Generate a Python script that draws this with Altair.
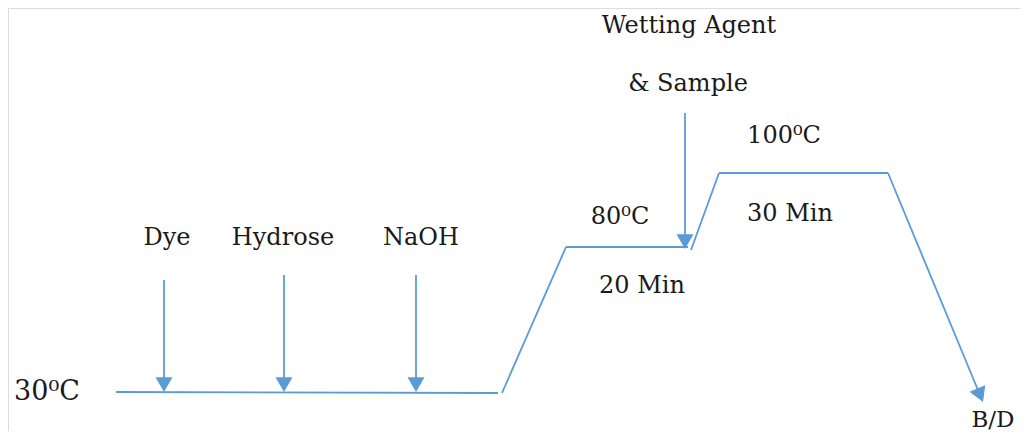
import altair as alt
import pandas as pd

# Process-curve segments (diagram coordinates, y grows downward)
seg_x1 = [116, 502, 566, 691, 719, 888, 164, 284, 416, 685]
seg_y1 = [392, 393, 247, 250, 173, 173, 280, 275, 275, 113]
seg_x2 = [498, 566, 688, 719, 888, 980, 164, 284, 416, 685]
seg_y2 = [393, 247, 247, 173, 173, 395, 385, 385, 385, 242]

# Arrow heads (centre of triangle) and their rotation
head_x = [164, 284, 416, 685, 980.2]
head_y = [384.6, 384.6, 384.6, 241.6, 395.2]
head_angle = [0, 0, 0, 0, 337.5]

# Labels
labels = ["Dye", "Hydrose", "NaOH", "30\u2070C", "80\u2070C", "20 Min",
          "100\u2070C", "30 Min", "B/D", "Wetting Agent", "& Sample"]
label_x = [167, 283, 421, 47, 620, 642, 784, 790, 993, 689, 688]
label_y = [245, 245, 245, 400, 224, 293, 143, 221, 427, 33, 91]
label_size = [24, 24, 24, 27, 24, 24, 24, 24, 23, 24, 24]

BLUE = "#5B9BD5"
W, H = 1012, 423
xs = alt.Scale(domain=[8, 1020], range=[0, W], nice=False, zero=False)
ys = alt.Scale(domain=[8, 431], range=[0, H], nice=False, zero=False)

segs = pd.DataFrame({"x": seg_x1, "y": seg_y1, "x2": seg_x2, "y2": seg_y2})
heads = pd.DataFrame({"x": head_x, "y": head_y, "a": head_angle})
texts = pd.DataFrame({"x": label_x, "y": label_y, "t": labels, "s": label_size})

lines = alt.Chart(segs).mark_rule(color=BLUE, strokeWidth=1.8).encode(
    x=alt.X("x:Q", scale=xs, axis=None),
    y=alt.Y("y:Q", scale=ys, axis=None),
    x2="x2:Q",
    y2="y2:Q",
)

arrows = alt.Chart(heads).mark_point(
    shape="triangle-down", filled=True, color=BLUE, opacity=1, size=289
).encode(
    x=alt.X("x:Q", scale=xs, axis=None),
    y=alt.Y("y:Q", scale=ys, axis=None),
    angle=alt.Angle("a:Q", scale=None),
)

text = alt.Chart(texts).mark_text(
    font="DejaVu Serif", color="#1a1a1a", align="center", baseline="alphabetic"
).encode(
    x=alt.X("x:Q", scale=xs, axis=None),
    y=alt.Y("y:Q", scale=ys, axis=None),
    text="t:N",
    size=alt.Size("s:Q", scale=None, legend=None),
)

chart = (lines + arrows + text).properties(
    width=W, height=H, padding=0, autosize=alt.AutoSizeParams(type="none")
).configure_view(strokeWidth=0, stroke="transparent").configure(background="white")

chart.save("out.html", embed_options={"renderer": "svg", "actions": False})
